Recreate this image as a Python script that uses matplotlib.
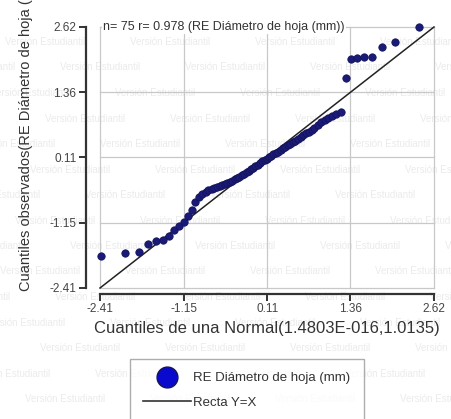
import numpy as np
import matplotlib.pyplot as plt
from matplotlib.lines import Line2D

plt.rcParams['font.family'] = ['Liberation Sans', 'DejaVu Sans']

x_teo = [-2.40, -2.04, -1.83, -1.68, -1.56, -1.46, -1.37, -1.29, -1.22, -1.15,
         -1.09, -1.03, -0.98, -0.92, -0.87, -0.82, -0.78, -0.73, -0.69, -0.65,
         -0.61, -0.57, -0.53, -0.49, -0.45, -0.42, -0.38, -0.34, -0.31, -0.27,
         -0.24, -0.20, -0.17, -0.14, -0.10, -0.07, -0.03, 0.00,
         0.03, 0.07, 0.10, 0.14, 0.17, 0.20, 0.24, 0.27, 0.31, 0.34,
         0.38, 0.42, 0.45, 0.49, 0.53, 0.57, 0.61, 0.65, 0.69, 0.73,
         0.78, 0.82, 0.87, 0.92, 0.98, 1.03, 1.09, 1.15, 1.22,
         1.29, 1.37, 1.46, 1.56, 1.68, 1.83, 2.04, 2.40]
y_obs = [-1.80, -1.74, -1.72, -1.57, -1.51, -1.49, -1.41, -1.30, -1.22, -1.14,
         -1.02, -0.90, -0.76, -0.66, -0.60, -0.56, -0.53, -0.51, -0.49, -0.47,
         -0.45, -0.43, -0.41, -0.39, -0.36, -0.34, -0.31, -0.29, -0.27, -0.24,
         -0.21, -0.18, -0.15, -0.12, -0.09, -0.06, -0.03, 0.00,
         0.03, 0.06, 0.08, 0.11, 0.14, 0.17, 0.20, 0.22, 0.25, 0.28,
         0.31, 0.34, 0.37, 0.40, 0.43, 0.47, 0.50, 0.54, 0.57, 0.60,
         0.64, 0.68, 0.73, 0.78, 0.82, 0.86, 0.90, 0.95, 0.99,
         1.64, 2.01, 2.03, 2.04, 2.05, 2.24, 2.33, 2.62]
ticks = [-2.41, -1.15, 0.11, 1.36, 2.62]
tick_labels = ['-2.41', '-1.15', '0.11', '1.36', '2.62']

W, H = 451, 419
fig = plt.figure(figsize=(W / 100, H / 100), dpi=100)

# faint watermark rows "Versión Estudiantil"
for k, yy in enumerate(np.arange(42, 420, 25.5)):
    shift = (k * 55) % 125
    for xx in np.arange(-120 + shift, 460, 125):
        fig.text(xx / W, 1 - yy / H, 'Versión Estudiantil', fontsize=7,
                 color='#ebebeb', va='center', ha='left', zorder=-5)

ax = fig.add_axes([100 / W, 1 - 288 / H, 334 / W, 261 / H])
ax.patch.set_alpha(0)

ax.set_xlim(ticks[0], ticks[-1])
ax.set_ylim(ticks[0], ticks[-1])
ax.set_xticks(ticks)
ax.set_yticks(ticks)
ax.set_xticklabels(tick_labels)
ax.set_yticklabels(tick_labels)
for t in ticks:
    ax.axhline(t, color='#c8c8c8', linewidth=0.9, zorder=0.5, clip_on=False)
    ax.axvline(t, color='#c8c8c8', linewidth=0.9, zorder=0.5, clip_on=False)

for s in ['top', 'right']:
    ax.spines[s].set_visible(False)
ax.spines['left'].set_position(('outward', 10))
ax.spines['bottom'].set_position(('outward', 4))
for s in ['left', 'bottom']:
    ax.spines[s].set_color('#333333')
    ax.spines[s].set_linewidth(1.6)
ax.tick_params(direction='out', length=5, width=1.4, color='#333333',
               labelsize=8.5, labelcolor='#444444', pad=2)

ax.plot([ticks[0], ticks[-1]], [ticks[0], ticks[-1]], color='#222222',
        linewidth=1.1, zorder=3, clip_on=False)
ax.scatter(x_teo, y_obs, s=28, color='#1a1a78', edgecolor='#14145a',
           linewidth=0.6, zorder=4, clip_on=False)

ax.text(ticks[0] + 0.05, ticks[-1], 'n= 75 r= 0.978 (RE Diámetro de hoja (mm))',
        fontsize=9, color='#333333', va='center', ha='left', zorder=2,
        bbox=dict(facecolor='white', edgecolor='none', pad=1))

ax.set_xlabel('Cuantiles de una Normal(1.4803E-016,1.0135)', fontsize=12,
              color='#333333', labelpad=4)
ax.set_ylabel('Cuantiles observados(RE Diámetro de hoja (mm))', fontsize=10.5,
              color='#333333')
ax.yaxis.set_label_coords(-67 / 334, (288 - 128) / 261)

h_pts = Line2D([], [], linestyle='none', marker='o', markersize=15,
               markerfacecolor='#0a0acf', markeredgecolor='#14145a')
h_line = Line2D([], [], color='#333333', linewidth=1.2)
leg = fig.legend([h_pts, h_line], ['RE Diámetro de hoja (mm)', 'Recta Y=X'],
                 loc='upper left', bbox_to_anchor=(130 / W, 1 - 359 / H),
                 fontsize=9.5, frameon=True, fancybox=False, handlelength=3.6,
                 handletextpad=0.2, borderpad=1.0, labelspacing=0.9,
                 borderaxespad=0)
leg.get_frame().set_edgecolor('#999999')
leg.get_frame().set_linewidth(1)
for t in leg.get_texts():
    t.set_color('#333333')

fig.savefig('out.png', dpi=100)
